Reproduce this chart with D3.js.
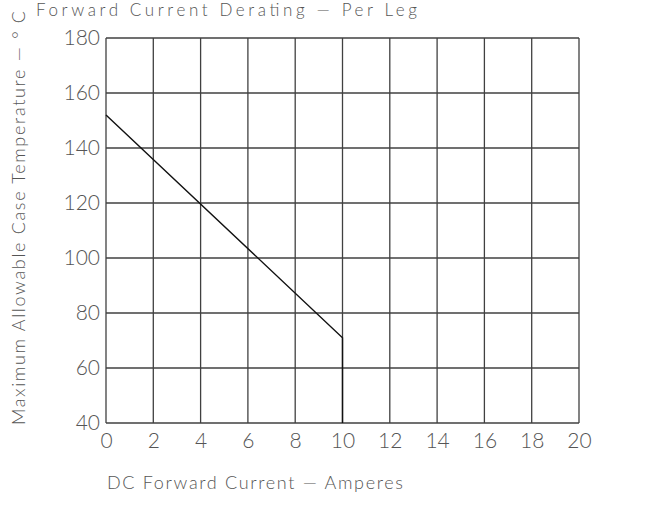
<!DOCTYPE html>
<html>
<head>
<meta charset="utf-8">
<script src="https://cdn.jsdelivr.net/npm/d3@7"></script>
<style>
    body { margin: 0; background: #fff; }
    svg text { font-family: 'Lato', 'Liberation Sans', sans-serif; font-weight: 300; fill: #555; }
</style>
</head>
<body>
<div id="graphWrapper"></div>
<script>
// derating curve (amperes, deg C)
const current = [0, 10, 10];
const temperature = [152, 71, 40];
const xTicks = [0, 2, 4, 6, 8, 10, 12, 14, 16, 18, 20];
const yTicks = [40, 60, 80, 100, 120, 140, 160, 180];
const title = 'Forward Current Derating \u2014 Per Leg';
const xTitle = 'DC Forward Current \u2014 Amperes';
const yTitle = 'Maximum Allowable Case Temperature \u2014 \u00B0 C';

let margin = { top: 38, right: 86, bottom: 84, left: 106 },
    width = 665 - margin.left - margin.right,
    height = 507 - margin.top - margin.bottom;

let xScale = d3.scaleLinear().domain([0, 20]).range([0, width]);
let yScale = d3.scaleLinear().domain([40, 180]).range([height, 0]);

let root = d3.select('#graphWrapper')
    .append('svg')
    .attr('width', 665)
    .attr('height', 507);

let svg = root.append('g')
    .attr('transform', `translate(${margin.left}, ${margin.top})`);

// grid
svg.selectAll('.vgrid')
    .data(xTicks)
    .enter()
    .append('line')
    .attr('x1', d => xScale(d)).attr('x2', d => xScale(d))
    .attr('y1', 0).attr('y2', height)
    .attr('stroke', '#404040')
    .attr('stroke-width', 1.3);

svg.selectAll('.hgrid')
    .data(yTicks)
    .enter()
    .append('line')
    .attr('x1', 0).attr('x2', width)
    .attr('y1', d => yScale(d)).attr('y2', d => yScale(d))
    .attr('stroke', '#404040')
    .attr('stroke-width', 1.3);

// axes labels only (no domain, no ticks)
let xAxis = svg.append('g')
    .attr('transform', `translate(0, ${height})`)
    .call(d3.axisBottom(xScale).tickValues(xTicks).tickSize(0).tickPadding(10));
xAxis.select('.domain').remove();
xAxis.selectAll('text')
    .style('font-size', '21px')
    .attr('fill', '#555');

let yAxis = svg.append('g')
    .call(d3.axisLeft(yScale).tickValues(yTicks).tickSize(0).tickPadding(6));
yAxis.select('.domain').remove();
yAxis.selectAll('text')
    .style('font-size', '21px')
    .attr('fill', '#555');
xAxis.attr('font-family', null);
yAxis.attr('font-family', null);

// curve
let line = d3.line()
    .x((d, i) => xScale(current[i]))
    .y(d => yScale(d));

svg.append('path')
    .datum(temperature)
    .attr('fill', 'none')
    .attr('stroke', '#111')
    .attr('stroke-width', 1.4)
    .attr('d', line);

// titles
root.append('text')
    .attr('x', 36)
    .attr('y', 16)
    .attr('textLength', 381)
    .attr('lengthAdjust', 'spacing')
    .style('font-size', '17px')
    .text(title);

root.append('text')
    .attr('x', 107)
    .attr('y', 489)
    .attr('textLength', 296)
    .attr('lengthAdjust', 'spacing')
    .style('font-size', '18px')
    .text(xTitle);

root.append('text')
    .attr('transform', 'translate(25, 425) rotate(-90)')
    .attr('textLength', 414)
    .attr('lengthAdjust', 'spacing')
    .style('font-size', '18px')
    .text(yTitle);
</script>
</body>
</html>
